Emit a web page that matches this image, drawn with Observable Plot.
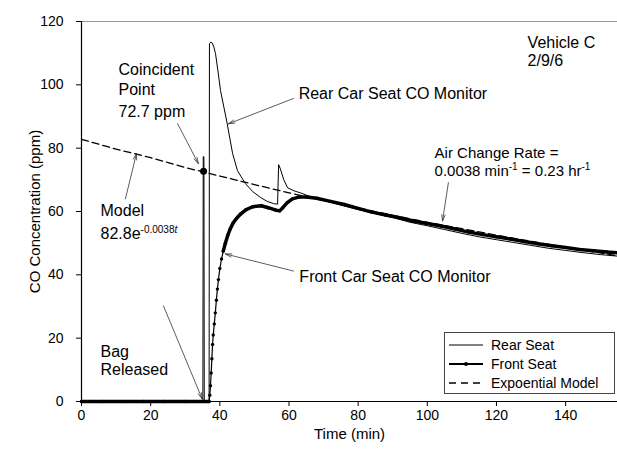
<!DOCTYPE html>
<html><head><meta charset="utf-8">
<script src="https://cdn.jsdelivr.net/npm/d3@7"></script>
<script src="https://cdn.jsdelivr.net/npm/@observablehq/plot@0.6"></script>
<style>
body{margin:0;background:#fff;}
#chart{position:relative;width:617px;height:461px;font-family:"Liberation Sans",Arial,sans-serif;}
#legend{position:absolute;left:444px;top:332px;width:171px;height:62px;border:1px solid #444;background:#fff;box-sizing:border-box;font-size:14px;color:#000;}
.row{position:absolute;left:0;height:19px;display:flex;align-items:center;white-space:nowrap;}
.row svg{margin-left:4px;margin-right:8px;}
</style></head><body><div id="chart"></div>
<script>
// ---- data ----
const xTicks = [0, 20, 40, 60, 80, 100, 120, 140];
const yTicks = [0, 20, 40, 60, 80, 100, 120];

// Rear seat CO monitor: [time (min), ppm]
const rearSeat = [
  [0,0],[35.1,0],[35.2,77.3],[35.4,77.3],[35.5,0],[36.9,0],[37.0,113],[37.4,113.5],[37.8,113.2],
  [38.2,112.2],[38.75,109.9],[39.5,104],[40.2,98.2],[42.0,88.5],[43.7,78.3],[45.1,72.9],
  [47.4,68.8],[49.5,66.3],[51.8,64.4],[53.7,63.2],[55.5,62.5],[56.7,62.3],[57.0,74.8],
  [57.5,73.5],[58.5,70],[59.6,67.5],[61.5,66.5],[63.3,65.9],[65.4,65.0],[70,63.5],[75,62],
  [80,60.6],[85,59.3],[90,58.1],[95,56.6],[100,55.5],[105,54.3],[110,53.1],[115,52],
  [120,51.1],[125,50.2],[130,49.3],[135,48.4],[140,47.7],[145,47],[150,46.4],[155,45.9]
];

// Front seat CO monitor: [time (min), ppm]
const frontSeat = [
  [0,0],[6,0],[12,0],[18,0],[24,0],[30,0],[36.9,0],[37.1,2],[37.3,5],[37.5,9],[37.7,13.5],
  [37.9,18],[38.1,21],[38.4,24.5],[38.7,28],[39.0,32],[39.3,35.5],[39.6,38.5],[40.0,42],
  [40.5,45],[41.0,47.5],[41.6,50],[42.3,52.5],[43.0,54.5],[43.8,56.3],[44.8,57.8],[46,59.2],
  [47.5,60.5],[49.5,61.5],[52,61.8],[54,61.2],[56,60.5],[57.3,60.2],[58.2,61.2],[59.5,62.8],
  [61,64],[63,64.6],[65,64.6],[68,64.2],[72,63.2],[76,62.2],[80,61],[84,59.8],[88,58.9],
  [92,58],[96,57],[100,56.2],[104,55.4],[108,54.5],[112,53.5],[116,52.7],[120,52],
  [124,51.3],[128,50.5],[132,49.8],[136,49.2],[140,48.6],[144,48],[148,47.6],[152,47.2],[155,47]
];

// Exponential model 82.8e^(-0.0038t)
const modelCurve = [
  [0,82.8],[10,79.7],[20,77.0],[30,73.9],[40,71.2],[50,68.5],[60,65.9],[70,63.5],[80,61.1],
  [90,58.8],[100,56.6],[110,54.6],[120,52.5],[130,50.6],[140,48.7],[150,46.9],[155,46.0]
];

const coincidentPoint = [[35.3, 72.7]];

// annotation texts: [time, ppm, text]
const noteTexts = [
  [10.7,104.6,"Coincident"],[10.7,98.5,"Point"],[10.7,91.6,"72.7 ppm"],
  [62.8,97.2,"Rear Car Seat CO Monitor"],
  [5.5,60.2,"Model"],[5.5,53.0,"82.8e-0.0038t"],
  [63.0,39.4,"Front Car Seat CO Monitor"],
  [5.5,15.7,"Bag"],[5.5,10.0,"Released"],
  [129,113.4,"Vehicle C"],[129,107.7,"2/9/6"]
];
const rateTexts = [
  [102.1,78.3,"Air Change Rate ="],[102.1,72.6,"0.0038 min-1 = 0.23 hr-1"]
];

// annotation arrows: [t1, ppm1, t2, ppm2]
const noteArrows = [
  [27.8,87.7,33.8,75.1],
  [61.3,95.7,42.5,87.7],
  [106.1,69.1,104.4,57.0],
  [12.7,64.0,15.9,78.3],
  [61.3,41.2,41.6,46.6],
  [23.7,30.2,34.9,0.8]
];

const legendItems = ["Rear Seat", "Front Seat", "Expoential Model"];

// ---- chart ----
const pt = a => a.map(([t, ppm]) => ({t, ppm}));
const rear = pt(rearSeat), front = pt(frontSeat), model = pt(modelCurve), coin = pt(coincidentPoint);
const txt = a => a.map(([t, ppm, text]) => ({t, ppm, text}));
const notes = txt(noteTexts), rates = txt(rateTexts);
const font = '"Liberation Sans", Arial, sans-serif';

const chart = Plot.plot({
  width: 617, height: 461,
  marginLeft: 81, marginRight: 0, marginTop: 21, marginBottom: 60,
  style: {fontFamily: font, fontSize: "14px", color: "#000", background: "#fff", overflow: "visible"},
  x: {domain: [0, 155]},
  y: {domain: [0, 120]},
  marks: [
    Plot.ruleY([120], {stroke: "#999", strokeWidth: 1}),
    Plot.axisX({ticks: xTicks, tickSize: 5, tickPadding: 4, fontSize: 14, label: "Time (min)", labelAnchor: "center", labelOffset: 37, labelArrow: "none"}),
    Plot.axisY({ticks: yTicks, tickSize: 5, tickPadding: 13, fontSize: 14, label: "CO Concentration (ppm)", labelAnchor: "center", labelOffset: 52, labelArrow: "none"}),
    Plot.line(model, {x: "t", y: "ppm", stroke: "#000", strokeWidth: 1.3, strokeDasharray: "7,4"}),
    Plot.line(rear, {x: "t", y: "ppm", stroke: "#000", strokeWidth: 1}),
    Plot.line(front, {x: "t", y: "ppm", stroke: "#000", strokeWidth: 1.2}),
    Plot.line(front.filter(d => d.t <= 36.9), {x: "t", y: "ppm", stroke: "#000", strokeWidth: 3.5}),
    Plot.line(front.filter(d => d.t >= 41), {x: "t", y: "ppm", stroke: "#000", strokeWidth: 3.5}),
    Plot.dot(front, {x: "t", y: "ppm", r: 1.7, fill: "#000"}),
    Plot.dot(coin, {x: "t", y: "ppm", r: 3.5, fill: "#000"}),
    Plot.ruleX([0], {stroke: "#000", strokeWidth: 1.2}),
    Plot.ruleY([0], {stroke: "#000", strokeWidth: 1.2}),
    Plot.arrow(noteArrows, {x1: d => d[0], y1: d => d[1], x2: d => d[2], y2: d => d[3], stroke: "#333", strokeWidth: 0.8, headLength: 12, headAngle: 30}),
    Plot.text(notes, {x: "t", y: "ppm", text: "text", textAnchor: "start", fontSize: 16, fill: "#000"}),
    Plot.text(rates, {x: "t", y: "ppm", text: "text", textAnchor: "start", fontSize: 15, fill: "#000"})
  ]
});

const root = document.getElementById("chart");
root.appendChild(chart);

// axis titles slightly larger than tick labels
d3.select(chart).selectAll('[aria-label="x-axis label"] text, [aria-label="y-axis label"] text').attr("font-size", "15");

// superscripts
const svgNS = "http://www.w3.org/2000/svg";
function rebuild(node, parts) {
  node.textContent = "";
  for (const [s, sup, italic] of parts) {
    const ts = document.createElementNS(svgNS, "tspan");
    ts.textContent = s;
    if (sup) { ts.setAttribute("font-size", "10"); ts.setAttribute("dy", sup); }
    if (italic) ts.setAttribute("font-style", "italic");
    node.appendChild(ts);
  }
}
d3.select(chart).selectAll("text").each(function() {
  if (this.textContent === "82.8e-0.0038t") {
    rebuild(this, [["82.8e"], ["-0.0038", "-6"], ["t", null, true]]);
    this.lastChild.setAttribute("font-size", "10");
  } else if (this.textContent === "0.0038 min-1 = 0.23 hr-1") {
    rebuild(this, [["0.0038 min"], ["-1", "-6"], [" = 0.23 hr", "6"], ["-1", "-6"]]);
    this.childNodes[2].setAttribute("font-size", "15");
  }
});

// legend
const legend = document.createElement("div");
legend.id = "legend";
const samples = [
  '<svg width="34" height="8"><line x1="0" y1="4" x2="34" y2="4" stroke="#000" stroke-width="1"/></svg>',
  '<svg width="34" height="8"><line x1="0" y1="4" x2="34" y2="4" stroke="#000" stroke-width="2"/><circle cx="17" cy="4" r="2" fill="#000"/></svg>',
  '<svg width="34" height="8"><line x1="0" y1="4" x2="34" y2="4" stroke="#000" stroke-width="1.3" stroke-dasharray="7,5"/></svg>'
];
legendItems.forEach((name, i) => {
  const row = document.createElement("div");
  row.className = "row";
  row.style.top = (2 + i * 19) + "px";
  row.innerHTML = samples[i] + "<span>" + name + "</span>";
  legend.appendChild(row);
});
root.appendChild(legend);
</script></body></html>
